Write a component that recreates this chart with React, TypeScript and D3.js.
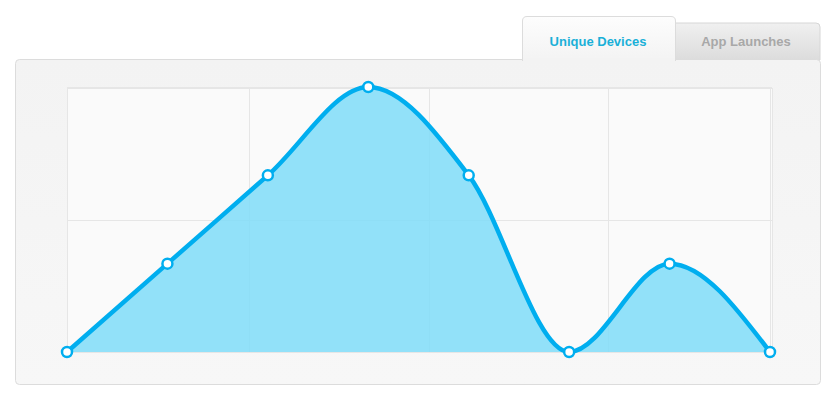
import React, { useRef, useEffect } from 'react';
import * as d3 from 'd3';

// chart values
const steps = [0, 1, 2, 3, 4, 5, 6, 7];
const devices = [0, 1, 2, 3, 2, 0, 1, 0];
const yTicks = [0, 1.5, 3];
const xGrid = [0, 1.81, 3.6, 5.39, 7];
const tabs = ['Unique Devices', 'App Launches'];

const App: React.FC = () => {
  const svgRef = useRef<SVGSVGElement>(null);

  useEffect(() => {
    if (!svgRef.current) return;
    const svg = d3.select(svgRef.current);
    svg.selectAll('*').remove();

    const plot = { left: 67, right: 772, top: 88, bottom: 352 };

    const x = d3.scaleLinear().domain([0, 7]).range([plot.left, plot.right - 2]);
    const y = d3.scaleLinear().domain([0, 3]).range([plot.bottom, plot.top - 1]);

    const defs = svg.append('defs');
    const panelGrad = defs.append('linearGradient').attr('id', 'panelGrad')
      .attr('x1', 0).attr('y1', 0).attr('x2', 0).attr('y2', 1);
    panelGrad.append('stop').attr('offset', '0%').attr('stop-color', '#f3f3f3');
    panelGrad.append('stop').attr('offset', '100%').attr('stop-color', '#f7f7f7');

    const tabGrad = defs.append('linearGradient').attr('id', 'tabGrad')
      .attr('x1', 0).attr('y1', 0).attr('x2', 0).attr('y2', 1);
    tabGrad.append('stop').attr('offset', '0%').attr('stop-color', '#f0f0f0');
    tabGrad.append('stop').attr('offset', '100%').attr('stop-color', '#dcdcdc');

    const activeGrad = defs.append('linearGradient').attr('id', 'activeGrad')
      .attr('x1', 0).attr('y1', 0).attr('x2', 0).attr('y2', 1);
    activeGrad.append('stop').attr('offset', '0%').attr('stop-color', '#fdfdfd');
    activeGrad.append('stop').attr('offset', '100%').attr('stop-color', '#f3f3f3');

    // inactive tab
    svg.append('path')
      .attr('d', 'M675,60 L675,23 L816,23 Q820,23 820,27 L820,60 Z')
      .attr('fill', 'url(#tabGrad)')
      .attr('stroke', '#d6d6d6');

    // panel
    svg.append('rect')
      .attr('x', 15.5).attr('y', 59.5).attr('width', 805).attr('height', 325)
      .attr('rx', 4)
      .attr('fill', 'url(#panelGrad)')
      .attr('stroke', '#dcdcdc');

    // active tab
    svg.append('path')
      .attr('d', 'M522.5,61 L522.5,21 Q522.5,16.5 527,16.5 L671,16.5 Q675.5,16.5 675.5,21 L675.5,61')
      .attr('fill', 'url(#activeGrad)')
      .attr('stroke', '#dcdcdc');
    svg.append('rect')
      .attr('x', 523).attr('y', 58).attr('width', 152).attr('height', 4)
      .attr('fill', '#f3f3f3');

    svg.selectAll('text.tab')
      .data(tabs)
      .enter()
      .append('text')
      .attr('class', 'tab')
      .attr('x', (d, i) => (i === 0 ? 598 : 746))
      .attr('y', 46)
      .attr('text-anchor', 'middle')
      .style('font-family', 'Liberation Sans, Arial, sans-serif')
      .style('font-size', '13px')
      .style('font-weight', 'bold')
      .style('fill', (d, i) => (i === 0 ? '#1ab0d8' : '#a8a8a8'))
      .text(d => d);

    // plot area
    svg.append('rect')
      .attr('x', plot.left + 0.5).attr('y', plot.top + 0.5)
      .attr('width', plot.right - plot.left).attr('height', plot.bottom - plot.top)
      .attr('fill', '#fafafa')
      .attr('stroke', '#e6e6e6');

    const grid = svg.append('g');
    grid.selectAll('line.v')
      .data(xGrid)
      .enter()
      .append('line')
      .attr('x1', d => Math.round(x(d)) + 0.5)
      .attr('x2', d => Math.round(x(d)) + 0.5)
      .attr('y1', plot.top).attr('y2', plot.bottom)
      .attr('stroke', '#e6e6e6');
    grid.selectAll('line.h')
      .data(yTicks)
      .enter()
      .append('line')
      .attr('x1', plot.left).attr('x2', plot.right)
      .attr('y1', d => Math.round(y(d)) + 0.5)
      .attr('y2', d => Math.round(y(d)) + 0.5)
      .attr('stroke', '#e6e6e6');

    const area = d3.area<number>()
      .x((d, i) => x(steps[i]))
      .y0(y(0))
      .y1(d => y(d))
      .curve(d3.curveMonotoneX);

    svg.append('path')
      .datum(devices)
      .attr('d', area)
      .attr('fill', '#7fdcf8')
      .attr('fill-opacity', 0.85);

    const line = d3.line<number>()
      .x((d, i) => x(steps[i]))
      .y(d => y(d))
      .curve(d3.curveMonotoneX);

    svg.append('path')
      .datum(devices)
      .attr('d', line)
      .attr('fill', 'none')
      .attr('stroke', '#00aeef')
      .attr('stroke-width', 4.5)
      .attr('stroke-linejoin', 'round');

    svg.selectAll('circle.pt')
      .data(devices)
      .enter()
      .append('circle')
      .attr('class', 'pt')
      .attr('cx', (d, i) => x(steps[i]))
      .attr('cy', d => y(d))
      .attr('r', 5)
      .attr('fill', '#ffffff')
      .attr('stroke', '#00aeef')
      .attr('stroke-width', 2.5);
  }, []);

  return (
    <div style={{ margin: -8 }}>
      <svg ref={svgRef} width={840} height={400} style={{ display: 'block', background: '#ffffff' }} />
    </div>
  );
};

export default App;
